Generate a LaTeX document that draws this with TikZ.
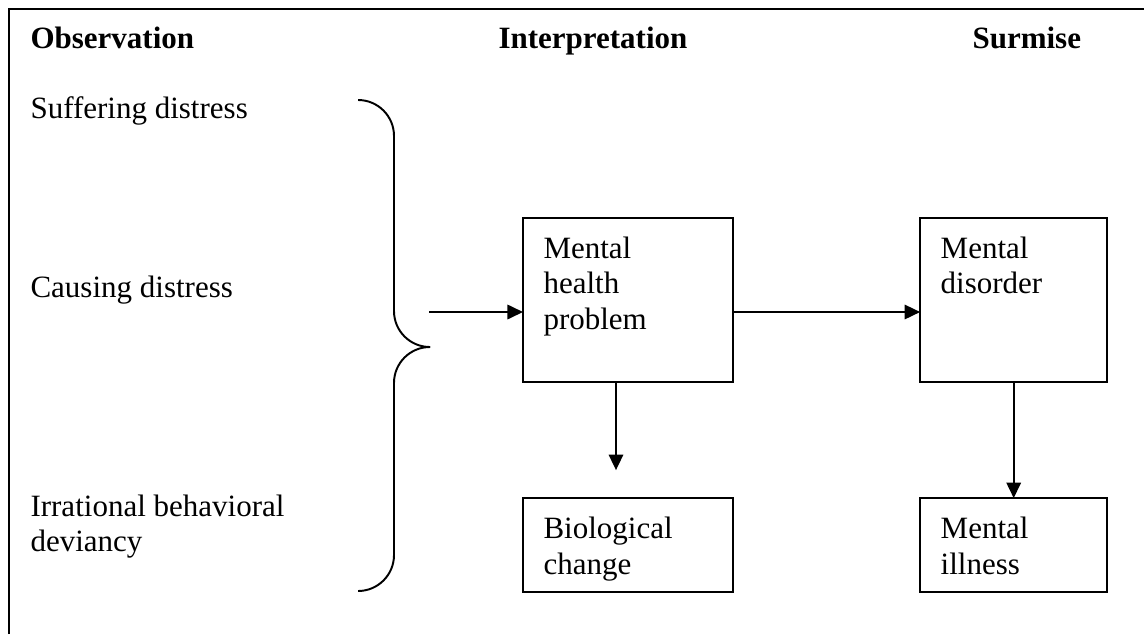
\documentclass[tikz,border=0pt]{standalone}
\usepackage{fontspec}
\setmainfont{Liberation Serif}
\usetikzlibrary{positioning,calc,arrows.meta}
\tikzset{txt/.style={anchor=base west, inner sep=0pt, font=\fontsize{12pt}{13.9pt}\selectfont}}
\tikzset{hdr/.style={txt, font=\fontsize{12pt}{13.9pt}\selectfont\bfseries}}
\tikzset{boxtxt/.style={anchor=north west, inner sep=0pt, align=left, font=\fontsize{12pt}{13.9pt}\selectfont}}
\tikzset{dbox/.style={draw, line width=0.8pt, inner sep=0pt, outer sep=0pt, minimum height=63.5pt}}
\tikzset{arr/.style={draw, line width=0.7pt, -{Triangle[length=6pt, width=5.6pt]}}}
\begin{document}
\begin{tikzpicture}[x=0.387pt, y=-0.387pt]
	\useasboundingbox (0,0) rectangle (1144,634);
	\draw[line width=0.8pt] (9,634) -- (9,9) -- (1144,9);
	%
	\node[hdr] (hobs) at (30,48) {Observation};
	\node[hdr] (hint) at (498,48) {Interpretation};
	\node[hdr] (hsur) at (972,48) {Surmise};
	%
	\node[txt] (suf) at (30,118) {Suffering distress};
	\node[txt] (cau) at (30,297) {Causing distress};
	\node[boxtxt] (irr) at (30,494) {Irrational behavioral\\deviancy};
	%
	\coordinate (btop) at (358,100);
	\coordinate (btip) at (430,347);
	\coordinate (bbot) at (358,591);
	\draw[line width=0.75pt, rounded corners=13.9pt] (btop) -- (394,100) -- (394,347) -- (btip);
	\draw[line width=0.75pt, rounded corners=13.9pt] (btip) -- (394,347) -- (394,591) -- (bbot);
	%
	\node[dbox, minimum width=81.3pt, anchor=north west] (mhp) at (523,218) {};
	\node[dbox, minimum width=72.4pt, right=72.4pt of mhp] (mdis) {};
	\node[dbox, minimum width=81.3pt, minimum height=36.4pt,
		below=44.9pt of mhp.south west, anchor=north west] (bio) {};
	\node[dbox, minimum width=72.4pt, minimum height=36.4pt, below=44.9pt of mdis] (ill) {};
	%
	\node[boxtxt] (tmhp) at ([shift={(20,18)}]mhp.north west) {Mental\\health\\problem};
	\node[boxtxt] (tmdis) at ([shift={(20,18)}]mdis.north west) {Mental\\disorder};
	\node[boxtxt] (tbio) at ([shift={(20,18)}]bio.north west) {Biological\\change};
	\node[boxtxt] (till) at ([shift={(20,18)}]ill.north west) {Mental\\illness};
	%
	\coordinate (ain) at (429,312);
	\draw[arr] (ain) -- (ain -| mhp.west);
	\draw[arr] (ain -| mhp.east) -- (ain -| mdis.west);
	\draw[arr] ($(mhp.south west)+(93,0)$) -- ($(bio.north west)+(93,-28)$);
	\draw[arr] (mdis.south) -- (ill.north);
\end{tikzpicture}
\end{document}
